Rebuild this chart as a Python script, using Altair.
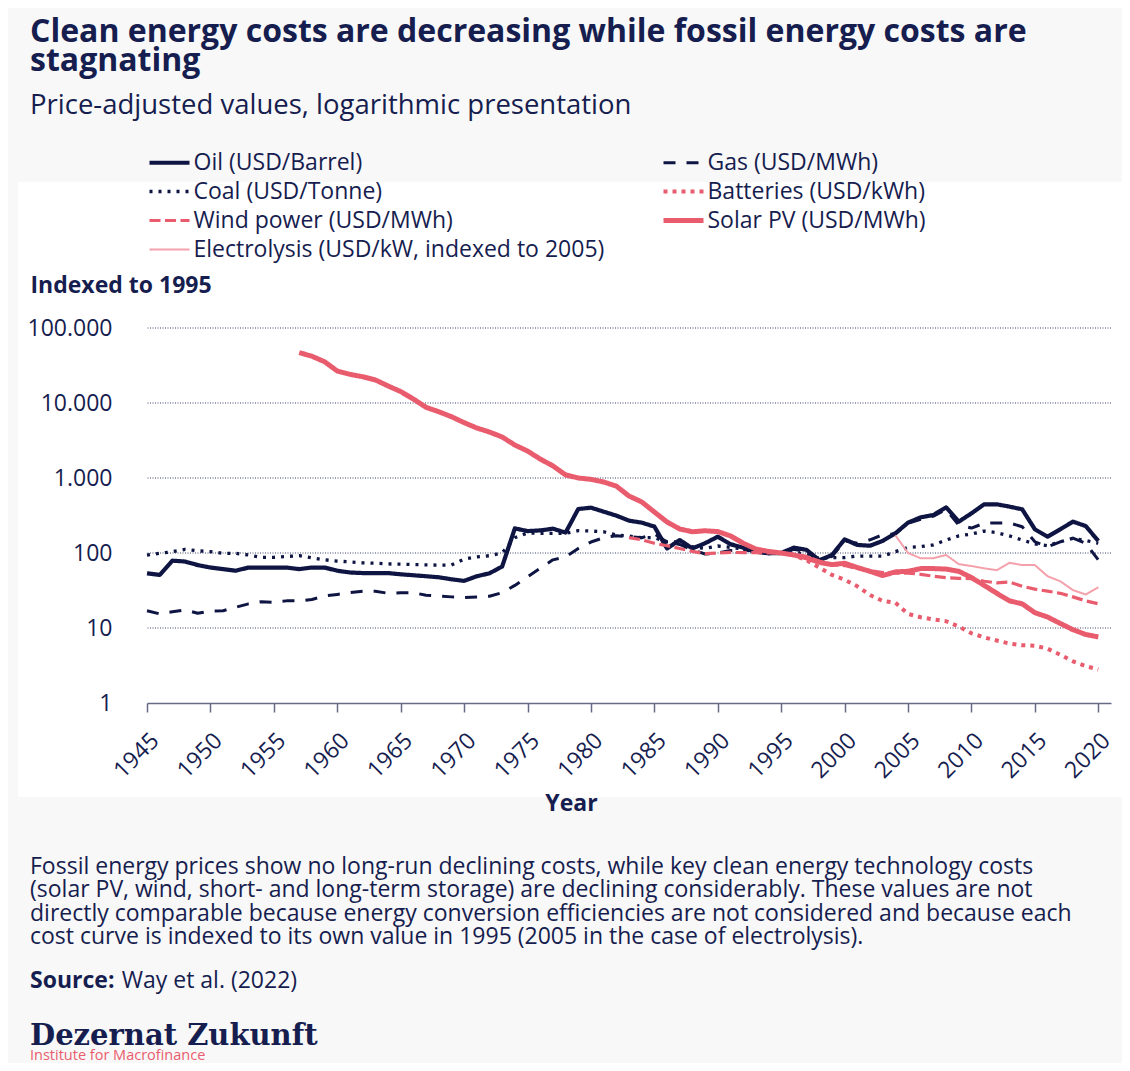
import altair as alt
import pandas as pd

NAVY = "#0e1543"
TEXT = "#161d4f"
PINK = "#e95c6e"
LPINK = "#f4a1ab"
AXIS = "#666a87"
GRID = "#3b416b"
BG = "#f8f8f8"
FONT = "Open Sans"
FS = 23

# ---------------- data (indexed to 1995) ----------------
names = [
    "Oil (USD/Barrel)",
    "Gas (USD/MWh)",
    "Coal (USD/Tonne)",
    "Batteries (USD/kWh)",
    "Wind power (USD/MWh)",
    "Solar PV (USD/MWh)",
    "Electrolysis (USD/kW, indexed to 2005)",
]
colors = [NAVY, NAVY, NAVY, PINK, PINK, PINK, LPINK]
dashes = [[1, 0], [12, 11], [3, 6], [4, 5], [11, 4.5], [1, 0], [1, 0]]
widths = [4.2, 3, 3.3, 4, 3.2, 5, 2]

oil_years = list(range(1945, 2021))
oil = [53.6, 51, 79, 77, 69, 64, 61, 58, 64, 64,
       64, 64, 61, 64, 64, 58, 55, 54, 54, 54,
       52, 50.5, 49, 47.5, 44.6, 42.5, 49, 53.6, 66, 213,
       196, 200, 211, 187, 386, 402, 356, 315, 270, 254,
       225, 115, 149, 115, 135, 165, 131, 118, 104, 99,
       100, 118, 110, 80, 94, 152, 128, 125, 145, 183,
       254, 299, 321, 406, 262, 338, 446, 446, 415, 382,
       207, 165, 207, 262, 229, 145]

gas_years = list(range(1945, 2021))
gas = [17, 15.4, 16.5, 17.4, 15.7, 16.8, 17, 18.9, 21, 22.4,
       22, 23, 23, 24, 26.7, 28, 29.6, 31, 31, 29,
       29.6, 29.6, 27.3, 26.7, 26, 25.5, 26, 26.5, 29.6, 37,
       48, 62.5, 81, 89, 115, 140, 160, 170, 165, 160,
       180, 140, 130, 110, 97, 100, 108, 110, 105, 100,
       100, 112, 104, 78, 90, 145, 135, 150, 175, 180,
       250, 281, 310, 380, 236, 215, 249, 252, 252, 224,
       141, 121, 141, 158, 135, 81]

coal_years = list(range(1945, 2021))
coal = [94, 99, 104, 112, 107, 104, 99, 99, 94, 87.5,
        87.5, 90, 92, 86, 81, 78, 76, 74, 73, 71.5,
        71, 70, 69.5, 69, 69, 83, 89, 92, 100, 160,
        185, 183, 183, 183, 199, 196, 192, 174, 168, 160,
        160, 141, 141, 121, 115, 124, 119, 113, 104, 99,
        100, 100, 97, 85, 87, 87, 91, 91, 91, 104,
        119, 122, 128, 149, 169, 179, 196, 187, 169, 149,
        132, 125, 141, 157, 147, 135]

battery_years = list(range(1995, 2021))
batteries = [100, 93, 80, 64, 51, 44, 36, 27.5, 23, 21.7,
             15.4, 13.9, 13, 12.3, 10.5, 8.5, 7.5, 6.8, 6.2, 5.9,
             5.8, 5.3, 4.4, 3.6, 3.1, 2.8]

wind_years = list(range(1983, 2021))
wind = [160, 150, 135, 125, 115, 105, 98, 100, 102, 101,
        101, 100, 100, 96, 90, 78, 70, 68, 62, 58,
        55, 54, 54, 52, 49, 47, 46, 45.5, 42, 40,
        41, 36, 33, 31, 29, 26, 23, 21]

solar_years = list(range(1957, 2021))
solar = [47000, 42000, 35500, 26700, 24100, 22400, 20300, 16900, 14200, 11300,
         8750, 7650, 6570, 5470, 4640, 4100, 3520, 2750, 2290, 1790,
         1450, 1100, 1000, 960, 885, 780, 575, 480, 352, 259,
         209, 192, 198, 193, 169, 135, 113, 105, 100, 94,
         86, 75, 70, 73, 64, 57, 50, 56, 57, 62,
         62, 61, 57, 47, 37, 29, 23, 21, 16, 14,
         11.5, 9.5, 8.2, 7.6]

electro_years = list(range(2004, 2021))
electrolysis = [172, 100, 85, 85, 94, 71, 67, 62.5, 59, 74,
                69, 69, 49, 42, 32, 28, 35]

grid_values = [10, 100, 1000, 10000, 100000]
y_ticks = [1, 10, 100, 1000, 10000, 100000]
x_ticks = list(range(1945, 2021, 5))

footer_lines = [
    "Fossil energy prices show no long-run declining costs, while key clean energy technology costs",
    "(solar PV, wind, short- and long-term storage) are declining considerably. These values are not",
    "directly comparable because energy conversion efficiencies are not considered and because each",
    "cost curve is indexed to its own value in 1995 (2005 in the case of electrolysis).",
]

# ---------------- table ----------------
series_data = [
    (names[0], oil_years, oil),
    (names[1], gas_years, gas),
    (names[2], coal_years, coal),
    (names[3], battery_years, batteries),
    (names[4], wind_years, wind),
    (names[5], solar_years, solar),
    (names[6], electro_years, electrolysis),
]
rows = []
for nm, yrs, vals in series_data:
    sw = widths[names.index(nm)]
    for yr, v in zip(yrs, vals):
        rows.append({"year": yr, "value": v, "series": nm, "sw": sw})
df = pd.DataFrame(rows)

W, H = 964, 375

sw_expr = "".join(f"datum.value === '{n}' ? {w} : " for n, w in zip(names, widths)) + "3"

legend = alt.Legend(
    orient="none", legendX=11, legendY=-177, columns=2, columnPadding=48,
    direction="horizontal",
    rowPadding=5, padding=0, labelFontSize=FS, labelColor=TEXT, labelFont=FONT,
    labelLimit=700, labelOffset=12.5, symbolType="M-2.5,0H2.5", symbolSize=256,
    symbolStrokeWidth=alt.ExprRef(expr=sw_expr), zindex=1,
)

x_enc = alt.X(
    "year:Q",
    scale=alt.Scale(domain=[1945, 2021], nice=False, zero=False),
    axis=alt.Axis(
        values=x_ticks, format="d", labelAngle=-45, labelAlign="right",
        labelBaseline="top", labelPadding=17, labelFlush=False, labelOverlap=False,
        tickSize=9, tickWidth=1.5, tickColor=AXIS, domainColor=AXIS, domainWidth=1.5,
        labelFontSize=FS, labelColor=TEXT, labelFont=FONT, grid=False, zindex=1,
        title="Year", titleFontSize=FS, titleFontWeight="bold", titleColor=TEXT,
        titleFont=FONT, titleX=424, titleY=107, titleBaseline="alphabetic",
    ),
)
y_enc = alt.Y(
    "value:Q",
    scale=alt.Scale(type="log", domain=[1, 100000], nice=False),
    axis=alt.Axis(
        values=y_ticks, labelExpr="replace(format(datum.value, ','), ',', '.')",
        domain=False, ticks=False, grid=False, labelPadding=35, labelFlush=False,
        labelFontSize=FS, labelColor=TEXT, labelFont=FONT, zindex=1,
        title="Indexed to 1995", titleAngle=0, titleX=-117, titleY=-36,
        titleAlign="left", titleBaseline="alphabetic", titleFontSize=FS,
        titleFontWeight="bold", titleColor=TEXT, titleFont=FONT,
    ),
)

one = alt.Data(values=[{"k": 1}])

panel = alt.Chart(one).mark_rect(color="white").encode(
    x=alt.value(-129), x2=alt.value(983), y=alt.value(-146), y2=alt.value(469)
)

grid = alt.Chart(pd.DataFrame({"value": grid_values})).mark_rule(
    color=GRID, strokeWidth=1, strokeDash=[1, 1.5]
).encode(y=alt.Y("value:Q"))

lines = alt.Chart(df).mark_line(strokeJoin="round").encode(
    x=x_enc,
    y=y_enc,
    color=alt.Color("series:N", scale=alt.Scale(domain=names, range=colors),
                    legend=legend, title=None),
    strokeDash=alt.StrokeDash("series:N", scale=alt.Scale(domain=names, range=dashes),
                              legend=legend, title=None),
    strokeWidth=alt.StrokeWidth("sw:Q", scale=None),
)

footer = alt.Chart(one).mark_text(
    align="left", baseline="alphabetic", font=FONT, fontSize=FS, color=TEXT,
    lineHeight=23.3,
).encode(x=alt.value(-117), y=alt.value(546), text=alt.value(footer_lines))

source_b = alt.Chart(one).mark_text(
    align="left", baseline="alphabetic", font=FONT, fontSize=FS, fontWeight="bold",
    color=TEXT,
).encode(x=alt.value(-117), y=alt.value(660.3), text=alt.value("Source:"))

source_t = alt.Chart(one).mark_text(
    align="left", baseline="alphabetic", font=FONT, fontSize=FS, color=TEXT,
).encode(x=alt.value(-25.3), y=alt.value(660.3), text=alt.value("Way et al. (2022)"))

logo = alt.Chart(one).mark_text(
    align="left", baseline="alphabetic", font="DejaVu Serif", fontSize=29,
    fontWeight="bold", color=TEXT,
).encode(x=alt.value(-117), y=alt.value(717), text=alt.value("Dezernat Zukunft"))

inst = alt.Chart(one).mark_text(
    align="left", baseline="alphabetic", font=FONT, fontSize=14.5, color=PINK,
).encode(x=alt.value(-117), y=alt.value(731.5), text=alt.value("Institute for Macrofinance"))

chart = alt.layer(panel, grid, lines, footer, source_b, source_t, logo, inst).properties(
    width=W,
    height=H,
    padding={"left": 139, "top": 320, "right": 11, "bottom": 360},
    autosize=alt.AutoSizeParams(type="none"),
    background=BG,
    title=alt.Title(
        text=["Clean energy costs are decreasing while fossil energy costs are", "stagnating"],
        subtitle="Price-adjusted values, logarithmic presentation",
        anchor="start", frame="group", dx=-117, offset=31,
        font=FONT, fontSize=32, fontWeight="bold", color=TEXT, lineHeight=29,
        subtitleFont=FONT, subtitleFontSize=27.5, subtitleColor=TEXT, subtitlePadding=14,
    ),
).configure_view(strokeWidth=0).configure(font=FONT)

chart.save("out.html", embed_options={"renderer": "svg", "actions": False})
